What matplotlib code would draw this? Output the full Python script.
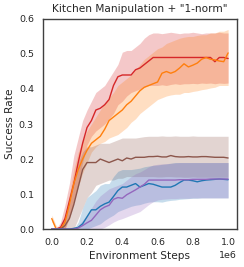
import numpy as np
import matplotlib
matplotlib.use('Agg')
import matplotlib.pyplot as plt
import seaborn as sns

sns.set_style('white')
plt.rcParams['font.family'] = ['DejaVu Sans']

# environment steps (in 1e6)
steps = np.linspace(0, 1.0, 41) * 1e6

red_mean = [0.0, 0.0, 0.005, 0.03, 0.08, 0.13, 0.19, 0.245, 0.29, 0.31,
            0.34, 0.345, 0.355, 0.37, 0.41, 0.435, 0.44, 0.44, 0.44, 0.455,
            0.46, 0.47, 0.48, 0.49, 0.49, 0.49, 0.49, 0.49, 0.49, 0.49,
            0.49, 0.49, 0.49, 0.49, 0.49, 0.49, 0.49, 0.478, 0.49, 0.49, 0.487]
red_hi = [0.0, 0.0, 0.02, 0.07, 0.13, 0.21, 0.26, 0.31, 0.34, 0.365,
          0.39, 0.40, 0.41, 0.43, 0.45, 0.47, 0.505, 0.51, 0.51, 0.52,
          0.53, 0.545, 0.555, 0.56, 0.56, 0.558, 0.56, 0.562, 0.56, 0.558,
          0.56, 0.56, 0.562, 0.56, 0.558, 0.56, 0.56, 0.56, 0.562, 0.56, 0.56]
red_lo = [0.0, 0.0, 0.0, 0.0, 0.04, 0.08, 0.13, 0.19, 0.24, 0.265,
          0.28, 0.29, 0.30, 0.315, 0.33, 0.355, 0.365, 0.38, 0.39, 0.395,
          0.40, 0.405, 0.41, 0.41, 0.41, 0.412, 0.41, 0.413, 0.415, 0.413,
          0.415, 0.415, 0.416, 0.415, 0.417, 0.416, 0.417, 0.415, 0.417, 0.416, 0.417]

orange_mean = [0.03, 0.0, 0.0, 0.02, 0.07, 0.13, 0.17, 0.2, 0.225, 0.245,
               0.255, 0.265, 0.285, 0.31, 0.32, 0.33, 0.34, 0.355, 0.365, 0.38,
               0.395, 0.405, 0.41, 0.415, 0.42, 0.445, 0.45, 0.445, 0.45, 0.46,
               0.472, 0.463, 0.468, 0.474, 0.485, 0.49, 0.485, 0.483, 0.48, 0.478, 0.503]
orange_hi = [0.04, 0.01, 0.0, 0.04, 0.10, 0.17, 0.22, 0.25, 0.28, 0.30,
             0.32, 0.34, 0.36, 0.375, 0.39, 0.41, 0.42, 0.43, 0.44, 0.455,
             0.47, 0.485, 0.495, 0.505, 0.515, 0.52, 0.53, 0.535, 0.54, 0.545,
             0.548, 0.55, 0.55, 0.553, 0.555, 0.555, 0.56, 0.56, 0.565, 0.565, 0.57]
orange_lo = [0.02, 0.0, 0.0, 0.0, 0.03, 0.08, 0.12, 0.16, 0.19, 0.22,
             0.235, 0.245, 0.25, 0.26, 0.265, 0.27, 0.28, 0.29, 0.305, 0.315,
             0.33, 0.34, 0.35, 0.36, 0.37, 0.375, 0.38, 0.383, 0.385, 0.385,
             0.39, 0.39, 0.393, 0.395, 0.398, 0.40, 0.403, 0.405, 0.41, 0.41, 0.41]

brown_mean = [0.0, 0.0, 0.0, 0.01, 0.03, 0.07, 0.12, 0.17, 0.19, 0.19,
              0.19, 0.2, 0.195, 0.19, 0.195, 0.2, 0.195, 0.203, 0.2, 0.205,
              0.205, 0.205, 0.207, 0.207, 0.208, 0.206, 0.206, 0.21, 0.207, 0.206,
              0.206, 0.207, 0.206, 0.206, 0.207, 0.207, 0.206, 0.205, 0.205, 0.205, 0.203]
brown_hi = [0.0, 0.0, 0.005, 0.03, 0.07, 0.13, 0.19, 0.22, 0.235, 0.235,
            0.24, 0.245, 0.245, 0.245, 0.25, 0.255, 0.26, 0.26, 0.26, 0.26,
            0.262, 0.264, 0.265, 0.265, 0.265, 0.266, 0.265, 0.265, 0.266, 0.265,
            0.265, 0.265, 0.266, 0.265, 0.265, 0.265, 0.265, 0.265, 0.265, 0.265, 0.265]
brown_lo = [0.0, 0.0, 0.0, 0.0, 0.0, 0.0, 0.03, 0.06, 0.09, 0.105,
            0.125, 0.13, 0.135, 0.14, 0.14, 0.145, 0.145, 0.15, 0.15, 0.15,
            0.15, 0.15, 0.15, 0.15, 0.149, 0.149, 0.15, 0.15, 0.149, 0.149,
            0.148, 0.148, 0.149, 0.148, 0.148, 0.148, 0.148, 0.148, 0.148, 0.148, 0.148]

blue_mean = [0.0, 0.0, 0.0, 0.0, 0.0, 0.002, 0.005, 0.015, 0.035, 0.055,
             0.055, 0.065, 0.072, 0.077, 0.093, 0.11, 0.12, 0.12, 0.125, 0.13,
             0.12, 0.125, 0.13, 0.128, 0.124, 0.12, 0.12, 0.12, 0.125, 0.133,
             0.14, 0.14, 0.138, 0.135, 0.138, 0.14, 0.141, 0.142, 0.143, 0.142, 0.141]
blue_hi = [0.0, 0.0, 0.0, 0.0, 0.0, 0.0, 0.02, 0.06, 0.09, 0.10,
           0.11, 0.125, 0.13, 0.13, 0.15, 0.165, 0.17, 0.17, 0.17, 0.172,
           0.174, 0.178, 0.18, 0.182, 0.183, 0.185, 0.186, 0.188, 0.19, 0.19,
           0.19, 0.19, 0.19, 0.19, 0.19, 0.19, 0.19, 0.19, 0.19, 0.19, 0.19]
blue_lo = [0.0, 0.0, 0.0, 0.0, 0.0, 0.0, 0.0, 0.0, 0.0, 0.005,
           0.01, 0.015, 0.025, 0.033, 0.04, 0.05, 0.055, 0.06, 0.065, 0.068,
           0.07, 0.074, 0.077, 0.078, 0.078, 0.077, 0.08, 0.082, 0.083, 0.085,
           0.086, 0.087, 0.088, 0.088, 0.089, 0.089, 0.089, 0.089, 0.089, 0.089, 0.089]

purple_mean = [0.0, 0.0, 0.0, 0.0, 0.0, 0.0, 0.003, 0.01, 0.018, 0.025,
               0.04, 0.055, 0.063, 0.068, 0.085, 0.09, 0.088, 0.098, 0.105, 0.112,
               0.12, 0.128, 0.14, 0.14, 0.14, 0.14, 0.14, 0.14, 0.14, 0.141,
               0.141, 0.141, 0.142, 0.142, 0.142, 0.142, 0.143, 0.143, 0.143, 0.143, 0.143]
purple_hi = [0.0, 0.0, 0.0, 0.0, 0.0, 0.0, 0.01, 0.025, 0.04, 0.06,
             0.08, 0.095, 0.105, 0.115, 0.12, 0.125, 0.13, 0.14, 0.15, 0.158,
             0.163, 0.17, 0.178, 0.183, 0.185, 0.186, 0.187, 0.188, 0.189, 0.19,
             0.19, 0.19, 0.19, 0.19, 0.19, 0.19, 0.19, 0.19, 0.19, 0.19, 0.19]
purple_lo = [0.0, 0.0, 0.0, 0.0, 0.0, 0.0, 0.0, 0.0, 0.0, 0.0,
             0.0, 0.0, 0.005, 0.012, 0.02, 0.026, 0.03, 0.035, 0.04, 0.045,
             0.05, 0.06, 0.07, 0.078, 0.083, 0.085, 0.086, 0.087, 0.087, 0.088,
             0.088, 0.088, 0.089, 0.089, 0.089, 0.089, 0.089, 0.089, 0.089, 0.089, 0.089]

runs = [
    (red_mean, red_lo, red_hi, 'tab:red'),
    (orange_mean, orange_lo, orange_hi, 'tab:orange'),
    (brown_mean, brown_lo, brown_hi, 'tab:brown'),
    (blue_mean, blue_lo, blue_hi, 'tab:blue'),
    (purple_mean, purple_lo, purple_hi, 'tab:purple'),
]

fig, ax = plt.subplots(figsize=(2.44, 2.67), dpi=100)
for mean, lo, hi, c in runs:
    ax.fill_between(steps, lo, hi, color=c, alpha=0.25, linewidth=0)
    ax.plot(steps, mean, color=c, linewidth=1.0)

ax.set_ylim(0, 0.6)
ax.set_xticks([0, 0.2e6, 0.4e6, 0.6e6, 0.8e6, 1.0e6])
ax.tick_params(labelsize=6.8, pad=3)
ax.xaxis.get_offset_text().set_fontsize(6.8)
ax.set_xlabel('Environment Steps', fontsize=7.6, labelpad=3)
ax.set_ylabel('Success Rate', fontsize=7.6, labelpad=3)
ax.set_title('Kitchen Manipulation + "1-norm"', fontsize=7.6, pad=5)
for s in ax.spines.values():
    s.set_color('0.25')
    s.set_linewidth(1.0)

fig.subplots_adjust(left=0.176, right=0.971, top=0.929, bottom=0.142)
fig.savefig('out.png')
